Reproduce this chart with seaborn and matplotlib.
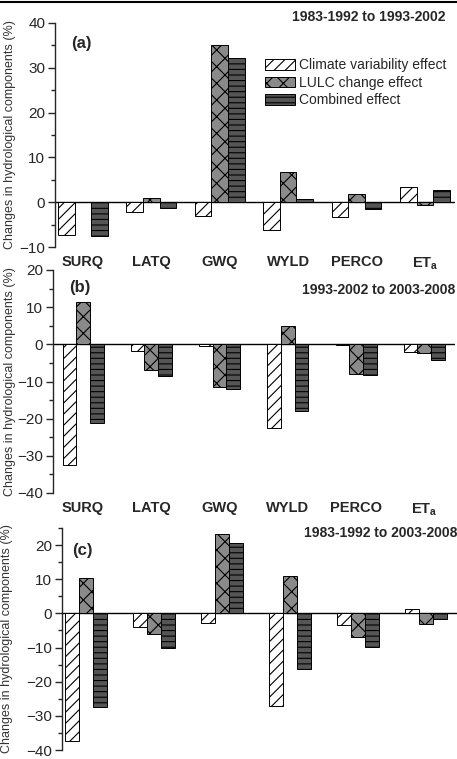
import numpy as np
import pandas as pd
import matplotlib
matplotlib.use("Agg")
import matplotlib.pyplot as plt
from matplotlib.ticker import MultipleLocator
import seaborn as sns

#%% Data

components = ["SURQ", "LATQ", "GWQ", "WYLD", "PERCO", "ET$_\\mathbf{a}$"]
effects = ["Climate variability effect", "LULC change effect", "Combined effect"]

# (a) 1983-1992 to 1993-2002
climate_a = [-7.3, -2.1, -3.1, -6.1, -3.3, 3.4]
lulc_a = [0.0, 1.0, 35.2, 6.8, 1.8, -0.7]
combined_a = [-7.5, -1.3, 32.1, 0.7, -1.6, 2.75]

# (b) 1993-2002 to 2003-2008
climate_b = [-32.6, -1.8, -0.4, -22.5, -0.1, -2.1]
lulc_b = [11.3, -6.8, -11.5, 4.8, -8.1, -2.3]
combined_b = [-21.3, -8.6, -11.9, -18.0, -8.3, -4.2]

# (c) 1983-1992 to 2003-2008
climate_c = [-37.5, -3.9, -2.8, -27.1, -3.3, 1.2]
lulc_c = [10.4, -6.1, 23.3, 10.8, -6.8, -3.1]
combined_c = [-27.3, -10.0, 20.5, -16.3, -9.8, -1.7]

periods = ["1983-1992 to 1993-2002", "1993-2002 to 2003-2008", "1983-1992 to 2003-2008"]
panel_tags = ["(a)", "(b)", "(c)"]

#%% Style
sns.set_style("ticks")
plt.rcParams["font.family"] = ["Liberation Sans", "DejaVu Sans"]
plt.rcParams["mathtext.fontset"] = "custom"
plt.rcParams["mathtext.bf"] = "Liberation Sans:bold"
plt.rcParams["mathtext.rm"] = "Liberation Sans"
plt.rcParams["hatch.linewidth"] = 0.8

styles = [
    dict(facecolor="white", hatch="///"),
    dict(facecolor="#8a8a8a", hatch="xx"),
    dict(facecolor="#555555", hatch="---"),
]

def long_table(climate, lulc, combined):
    rows = []
    for eff, vals in zip(effects, [climate, lulc, combined]):
        for comp, v in zip(components, vals):
            rows.append({"component": comp, "effect": eff, "value": v})
    return pd.DataFrame(rows)

panels = [
    long_table(climate_a, lulc_a, combined_a),
    long_table(climate_b, lulc_b, combined_b),
    long_table(climate_c, lulc_c, combined_c),
]

W, H = 457, 759
fig = plt.figure(figsize=(W / 100, H / 100), dpi=100)

# axes boxes in pixels: left, right, top, bottom
boxes = [(55, 455, 23, 247), (53, 455, 270, 493), (62, 457, 528, 750)]
ylims = [(-10, 40), (-40, 20), (-40, 25)]
xlims = [(-0.41, 5.44), (-0.44, 5.45), (-0.35, 5.45)]
widths = [0.73, 0.60, 0.62]
title_pos = [(0.975, 1.027), (1.0, 0.91), (1.0, 0.977)]
tag_pos = [(0.04, 0.91), (0.04, 0.92), (0.025, 0.90)]
ylabel_x = [-0.0975, -0.092, -0.124]

for i, df in enumerate(panels):
    l, r, t, b = boxes[i]
    ax = fig.add_axes([l / W, 1 - b / H, (r - l) / W, (b - t) / H])
    ax.patch.set_visible(False)
    sns.barplot(data=df, x="component", y="value", hue="effect", order=components,
                hue_order=effects, width=widths[i], gap=0, ax=ax, legend=False,
                errorbar=None)
    for cont, st in zip(ax.containers, styles):
        for bar in cont:
            bar.set_facecolor(st["facecolor"])
            bar.set_hatch(st["hatch"])
            bar.set_edgecolor("black")
            bar.set_linewidth(0.7)

    ax.axhline(0, color="black", lw=1.0, zorder=0.5)
    ax.set_ylim(*ylims[i])
    ax.set_xlim(*xlims[i])
    ax.yaxis.set_major_locator(MultipleLocator(10))
    ax.yaxis.set_minor_locator(MultipleLocator(5))
    ax.tick_params(axis="y", which="major", length=5, width=1, labelsize=11, pad=2)
    ax.tick_params(axis="y", which="minor", length=3, width=1)
    ax.tick_params(axis="x", length=0, pad=6)
    for lab in ax.get_xticklabels():
        lab.set_fontweight("bold")
        lab.set_fontsize(10.5)
    if i == 2:
        ax.set_xticklabels([])
    sns.despine(ax=ax, top=True, right=True, bottom=True)
    ax.spines["left"].set_linewidth(1.0)
    ax.set_xlabel("")
    ax.set_ylabel("Changes in hydrological components (%)", fontsize=9, color="#333333")
    ax.yaxis.set_label_coords(ylabel_x[i], 0.5)

    ax.text(title_pos[i][0], title_pos[i][1], periods[i], transform=ax.transAxes,
            ha="right", va="center", fontsize=10, fontweight="bold", clip_on=False)
    ax.text(tag_pos[i][0], tag_pos[i][1], panel_tags[i], transform=ax.transAxes,
            ha="left", va="center", fontsize=12, fontweight="bold")

    if i == 0:
        ax.legend(ax.containers, effects, loc="upper right", bbox_to_anchor=(1.0, 0.88),
                  frameon=False, fontsize=10, handlelength=2.2, handleheight=0.8,
                  labelspacing=0.25, handletextpad=0.3, borderaxespad=0.2)

# thin frame line along the top edge
fig.add_artist(plt.Line2D([0, 1], [0.997, 0.997], color="black", lw=1.5,
                          transform=fig.transFigure))

plt.savefig("out.png", dpi=100)
plt.close()
